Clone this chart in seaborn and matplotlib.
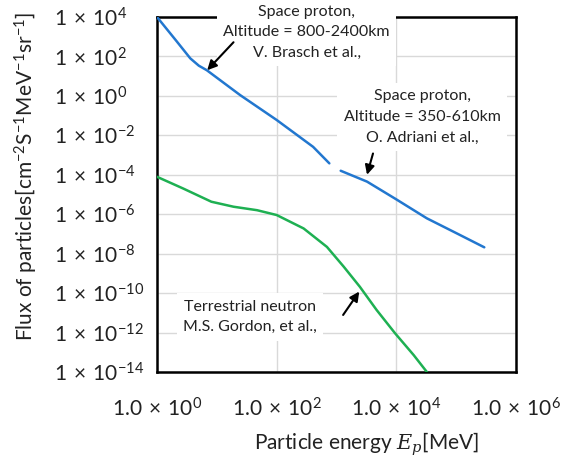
import numpy as np
import pandas as pd
import matplotlib
matplotlib.use("Agg")
import matplotlib.pyplot as plt
from matplotlib.ticker import FixedLocator, FuncFormatter, NullLocator
import seaborn as sns

# ---- data ----
proton_high_energy = [1.0, 2.1, 3.6, 5.0, 6.8, 24.5, 100, 407, 759]
proton_high_flux = [1e4, 620, 80, 34, 20, 1.1, 0.06, 2.6e-3, 3.8e-4]

proton_low_energy = [1175, 3236, 9772, 32359, 102329, 295121]
proton_low_flux = [1.6e-4, 4.5e-5, 5.9e-6, 6.2e-7, 1.07e-7, 2.1e-8]

neutron_energy = [1.0, 2.75, 8.1, 19, 47, 100, 282, 692, 1318, 2455, 4677, 9550, 19500, 32400]
neutron_flux = [7.9e-5, 2.0e-5, 4.3e-6, 2.4e-6, 1.6e-6, 9.1e-7, 1.9e-7, 2.2e-8, 2.2e-9,
                2.1e-10, 1.4e-11, 9.1e-13, 7.2e-14, 1.0e-14]

x_ticks = [1e0, 1e2, 1e4, 1e6]
y_ticks = [1e4, 1e2, 1e0, 1e-2, 1e-4, 1e-6, 1e-8, 1e-10, 1e-12, 1e-14]

label_high = "Space proton,\nAltitude = 800-2400km\nV. Brasch et al.,"
label_low = "Space proton,\nAltitude = 350-610km\nO. Adriani et al.,"
label_neutron = "Terrestrial neutron\nM.S. Gordon, et al.,"

# ---- styling ----
sns.set_theme(style="white")
plt.rcParams["font.family"] = ["Lato", "DejaVu Sans"]
plt.rcParams["mathtext.fontset"] = "custom"
plt.rcParams["mathtext.rm"] = "Lato"
plt.rcParams["mathtext.it"] = "DejaVu Serif:italic"
plt.rcParams["mathtext.bf"] = "Lato:bold"

BLUE = "#2277CF"
GREEN = "#1EB052"
TXT = "#222222"

fig = plt.figure(figsize=(5.69, 4.59), dpi=100)
ax = fig.add_axes([157 / 569, 1 - 372 / 459, 359 / 569, 355 / 459])

df_hi = pd.DataFrame({"E": proton_high_energy, "F": proton_high_flux})
df_lo = pd.DataFrame({"E": proton_low_energy, "F": proton_low_flux})
df_n = pd.DataFrame({"E": neutron_energy, "F": neutron_flux})

sns.lineplot(data=df_hi, x="E", y="F", ax=ax, color=BLUE, lw=1.8, sort=False, zorder=4)
sns.lineplot(data=df_lo, x="E", y="F", ax=ax, color=BLUE, lw=1.8, sort=False, zorder=4)
sns.lineplot(data=df_n, x="E", y="F", ax=ax, color=GREEN, lw=1.8, sort=False, zorder=4)

ax.set_xscale("log")
ax.set_yscale("log")
ax.set_xlim(1e0, 1e6)
ax.set_ylim(1e-14, 1e4)

ax.xaxis.set_major_locator(FixedLocator(x_ticks))
ax.yaxis.set_major_locator(FixedLocator(y_ticks))
ax.xaxis.set_minor_locator(NullLocator())
ax.yaxis.set_minor_locator(NullLocator())
ax.xaxis.set_major_formatter(FuncFormatter(
    lambda v, p: r"$1.0\,\times\,10^{%d}$" % int(round(np.log10(v)))))
ax.yaxis.set_major_formatter(FuncFormatter(
    lambda v, p: r"$1\,\times\,10^{%d}$" % int(round(np.log10(v)))))

ax.grid(True, which="major", color="#D9D9D9", lw=1.0, zorder=0)
ax.set_axisbelow(True)
for s in ax.spines.values():
    s.set_color("black")
    s.set_linewidth(1.8)

ax.tick_params(axis="both", which="major", direction="in", length=4, width=1.2,
               color="black", labelsize=15, labelcolor=TXT)
ax.tick_params(axis="y", pad=74)
ax.tick_params(axis="x", pad=18)
for lab in ax.get_yticklabels():
    lab.set_horizontalalignment("left")

ax.set_xlabel(r"Particle energy $E_p$[MeV]", fontsize=15, color=TXT)
ax.set_ylabel(r"Flux of particles[cm$^{-2}$S$^{-1}$MeV$^{-1}$sr$^{-1}$]",
              fontsize=15, color=TXT)
ax.xaxis.set_label_coords(0.585, -0.165)
ax.yaxis.set_label_coords(-0.325, 0.55)

box = dict(boxstyle="square,pad=0.4", fc="white", ec="none")
tkw = dict(fontsize=11.5, ha="center", va="center", color=TXT,
           linespacing=1.6, bbox=box, zorder=6, clip_on=False)
ax.text(316, 1700, label_high, **tkw)
ax.text(26900, 0.085, label_low, **tkw)
ax.text(36, 6.2e-12, label_neutron, **tkw)

apk = dict(arrowstyle="-|>", color="black", lw=1.5, mutation_scale=14,
           shrinkA=0, shrinkB=0)
ax.annotate("", xy=(6.9, 20), xytext=(19, 525), arrowprops=apk, zorder=7)
ax.annotate("", xy=(3236, 1e-4), xytext=(4074, 1.2e-3), arrowprops=apk, zorder=7)
ax.annotate("", xy=(2400, 1.2e-10), xytext=(1290, 7.8e-12), arrowprops=apk, zorder=7)

fig.savefig("out.png", dpi=100)
